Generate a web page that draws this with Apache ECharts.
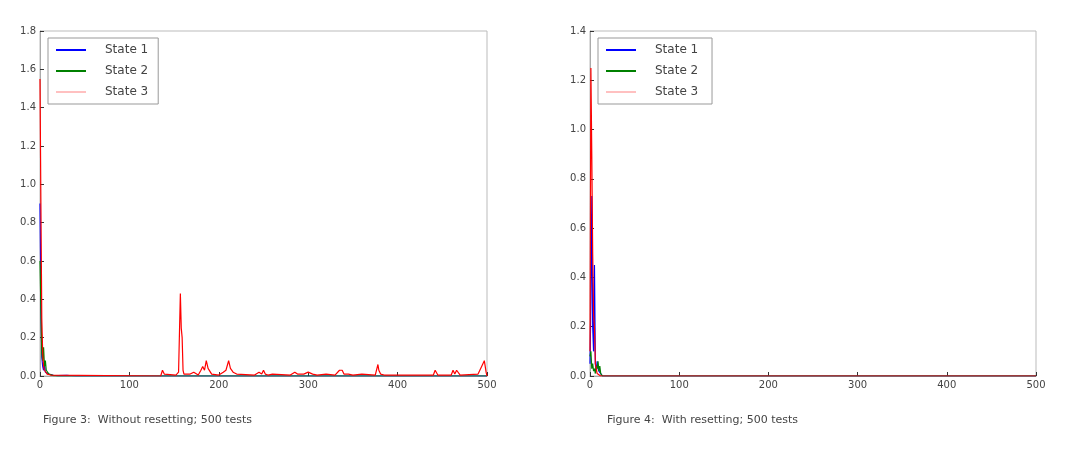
<!DOCTYPE html>
<html><head><meta charset="utf-8">
<script src="https://cdn.jsdelivr.net/npm/echarts@6/dist/echarts.min.js"></script>
<style>html,body{margin:0;background:#fff}#c{width:1082px;height:462px}</style>
</head><body><div id="c"></div>
<script>
// Left chart (without resetting)
const L1x=[0,1,2,3,4,5,6,7,8,10,12,15,20,30,40,500];
const L1y=[0.9,0.4,0.1,0.05,0.03,0.06,0.02,0.01,0.03,0.01,0.005,0.004,0.002,0.003,0,0];
const L2x=[0,1,2,3,4,5,6,7,8,10,12,15,20,500];
const L2y=[0.6,0.35,0.12,0.08,0.15,0.05,0.08,0.03,0.02,0.01,0.005,0.002,0,0];
const L3x=[0,1,2,3,4,5,6,8,10,12,135,137,139,141,152,155,157,158,159,160,161,163,168,172,177,180,182,184,186,188,192,200,205,208,211,213,216,220,240,245,248,250,252,255,260,280,285,288,290,295,300,305,310,320,330,335,338,340,345,350,360,375,378,379,381,385,400,440,442,445,460,462,464,466,470,490,494,497,499,500];
const L3y=[1.55,0.9,0.3,0.12,0.05,0.03,0.02,0.01,0.01,0.005,0,0.03,0.01,0,0.005,0.02,0.43,0.25,0.2,0.03,0.01,0.005,0.01,0.02,0.005,0.03,0.05,0.03,0.08,0.04,0.01,0.005,0.02,0.03,0.08,0.04,0.02,0.01,0.005,0.02,0.01,0.03,0.01,0.005,0.01,0.005,0.02,0.01,0.02,0.01,0.02,0.01,0.005,0.01,0.005,0.03,0.03,0.01,0.01,0.005,0.01,0.005,0.06,0.03,0.01,0.005,0.005,0.005,0.03,0.005,0.005,0.03,0.01,0.03,0.005,0.01,0.05,0.08,0.02,0];
// Right chart (with resetting)
const R1x=[0,1,2,3,4,5,6,7,8,9,10,12,14,500];
const R1y=[0.05,0.3,0.73,0.2,0.1,0.45,0.05,0.02,0.06,0.03,0.02,0.01,0,0];
const R2x=[0,1,2,3,4,5,6,7,8,9,10,11,12,14,500];
const R2y=[0.08,0.1,0.03,0.05,0.02,0.03,0.01,0.04,0.03,0.06,0.02,0.04,0.01,0,0];
const R3x=[0,1,2,3,4,5,6,8,10,12,500];
const R3y=[0.1,1.25,0.9,0.5,0.25,0.2,0.05,0.01,0.005,0,0];
const xTicks=[0,100,200,300,400,500];
const names=['State 1','State 2','State 3'];
const colors=['#0000ff','#008000','#ff0000'];
const legendColors=['#0000ff','#008000','#ffc0c0'];
const zip=(xs,ys)=>xs.map((x,i)=>[x,ys[i]]);
const F='DejaVu Sans';
function axes(gi,max,dec){
  const tick={inside:true,length:4,lineStyle:{color:'#333'}};
  return {
    x:[{gridIndex:gi,type:'value',min:0,max:500,interval:100,axisLine:{lineStyle:{color:'#aaa'}},axisTick:tick,axisLabel:{fontFamily:F,fontSize:10,color:'#444',margin:4},splitLine:{show:false}}],
    y:[{gridIndex:gi,type:'value',min:0,max:max,interval:0.2,axisLine:{show:true,lineStyle:{color:'#aaa'}},axisTick:Object.assign({show:true},tick),axisLabel:{fontFamily:F,fontSize:10,color:'#444',margin:4,formatter:v=>v.toFixed(dec)},splitLine:{show:false}}]
  };
}
const a0=axes(0,1.8,1), a1=axes(1,1.4,1);
function ser(xs,ys,i,gi){return {name:names[i]+(gi?' ':''),type:'line',xAxisIndex:gi,yAxisIndex:gi,data:zip(xs,ys),showSymbol:false,lineStyle:{width:1.2,color:colors[i]},itemStyle:{color:colors[i]},animation:false,z:3+i};}
function leg(gi,left){return {left:left,top:38,orient:'vertical',itemWidth:30,itemHeight:2,itemGap:9,padding:[6,10,6,8],borderColor:'#999',borderWidth:1,icon:'rect',textStyle:{fontFamily:F,fontSize:12,color:'#444',padding:[0,0,0,14]},
  data:names.map((n,i)=>({name:n+(gi?' ':''),itemStyle:{color:legendColors[i]}}))};}
const chart=echarts.init(document.getElementById('c'));
chart.setOption({
  animation:false,
  grid:[{left:40,top:31,width:447,height:345,show:true,borderColor:'#bbb',borderWidth:1},{left:590,top:31,width:446,height:345,show:true,borderColor:'#bbb',borderWidth:1}],
  xAxis:[...a0.x,...a1.x], yAxis:[...a0.y,...a1.y],
  legend:[leg(0,48),leg(1,598)],
  title:[{text:'Figure 3:  Without resetting; 500 tests',left:38,top:410,textStyle:{fontFamily:F,fontSize:11,fontWeight:'normal',color:'#444'}},
         {text:'Figure 4:  With resetting; 500 tests',left:602,top:410,textStyle:{fontFamily:F,fontSize:11,fontWeight:'normal',color:'#444'}}],
  series:[ser(L1x,L1y,0,0),ser(L2x,L2y,1,0),ser(L3x,L3y,2,0),ser(R1x,R1y,0,1),ser(R2x,R2y,1,1),ser(R3x,R3y,2,1)]
});
</script></body></html>
